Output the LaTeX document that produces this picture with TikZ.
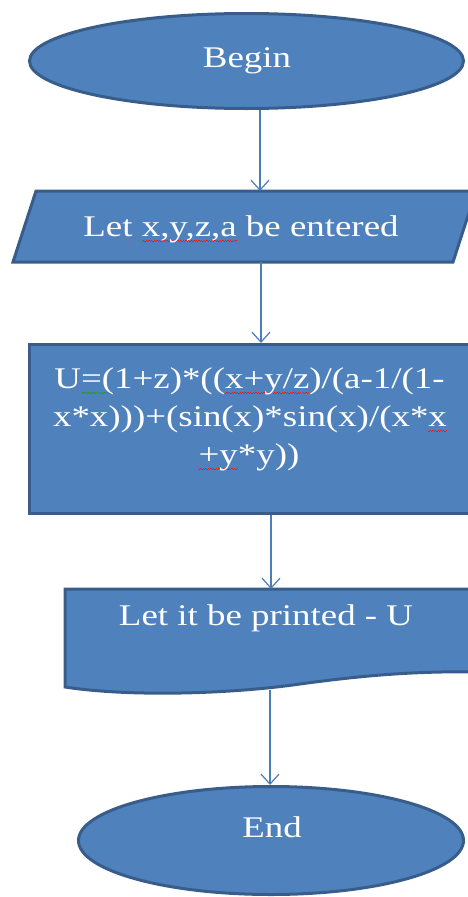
\documentclass[tikz,border=0pt]{standalone}
\usepackage{fontspec}
\setmainfont{Liberation Serif}[FakeStretch=1.23]
\usetikzlibrary{shapes.geometric,arrows.meta}

\definecolor{boxfill}{HTML}{4F81BD}
\definecolor{boxline}{HTML}{385D8A}
\definecolor{arrowc}{HTML}{4A7EBB}
\definecolor{spellred}{HTML}{E0201C}
\definecolor{spellgreen}{HTML}{1E9A2A}

% spell-check style wavy underline: a zigzag of tiny rules under the text
\newsavebox\sqbox
\newcommand\squig[2]{\sbox\sqbox{#2}%
  \rlap{\color{#1}\xleaders\hbox{\rule[-6.2pt]{1.3pt}{1pt}\rule[-4.8pt]{1.3pt}{1pt}}\hskip\wd\sqbox}%
  \usebox\sqbox}

\begin{document}
\begin{tikzpicture}[x=1pt,y=-1pt,
  shapebox/.style={fill=boxfill,draw=boxline,line width=3pt},
  frame/.style={inner sep=0pt,outer sep=0pt,draw=none},
  label/.style={text=white,font=\fontsize{30}{38}\selectfont,anchor=base,inner sep=0pt},
  conn/.style={draw=arrowc,line width=1.2pt,-{Straight Barb[length=10pt,width=18pt]}}]
\useasboundingbox (0,0) rectangle (467,897);

% start terminal
\node[shapebox,ellipse,minimum width=434pt,minimum height=95pt,inner sep=0pt] (begin) at (246.5,61) {};

% input parallelogram
\node[frame,minimum width=463pt,minimum height=71pt] (inp) at (244.5,226.5) {};
\draw[shapebox,line join=miter] ([xshift=23pt]inp.north west) -- (inp.north east)
  -- ([xshift=-23pt]inp.south east) -- (inp.south west) -- cycle;

% process box
\node[shapebox,rectangle,minimum width=461pt,minimum height=169pt,inner sep=0pt] (calc) at (259.6,429) {};

% output document
\node[frame,minimum width=425pt,minimum height=101pt] (doc) at (277.5,639.5) {};
\draw[shapebox,line join=miter] (doc.north west) -- (doc.north east)
  -- ([yshift=18pt]doc.south east)
  .. controls (430,671) and (380,673) .. (300,684)
  .. controls (230,694) and (130,697) .. ([yshift=3pt]doc.south west) -- cycle;

% end terminal
\node[shapebox,ellipse,minimum width=385pt,minimum height=108pt,inner sep=0pt] (end) at (271,840.5) {};

% connector columns
\coordinate (c1) at (260,0);
\coordinate (c2) at (261,0);
\coordinate (c3) at (271,0);
\coordinate (c4) at (270,0);

\draw[conn] (begin.south -| c1) -- (inp.north -| c1);
\draw[conn] (inp.south -| c2) -- (calc.north -| c2);
\draw[conn] (calc.south -| c3) -- (doc.north -| c3);
\draw[conn] (doc.south -| c4) -- (end.north -| c4);

% texts
\node[label] (tbegin) at (247,67) {Begin};
\node[label] (tinp) at (241,236) {Let \squig{spellred}{x,y,z,a} be entered};
\node[label] (tf1) at (249.5,388) {U\squig{spellgreen}{=(}1+z)*((\squig{spellred}{x+y/z})/(a-1/(1-};
\node[label] (tf2) at (250,426) {x*x)))+(sin(x)*sin(x)/(x*\squig{spellred}{x}};
\node[label] (tf3) at (249,464) {\squig{spellred}{+y}*y))};
\node[label] (tout) at (266,625) {Let it be printed - U};
\node[label] (tend) at (272,837) {End};
\end{tikzpicture}
\end{document}
